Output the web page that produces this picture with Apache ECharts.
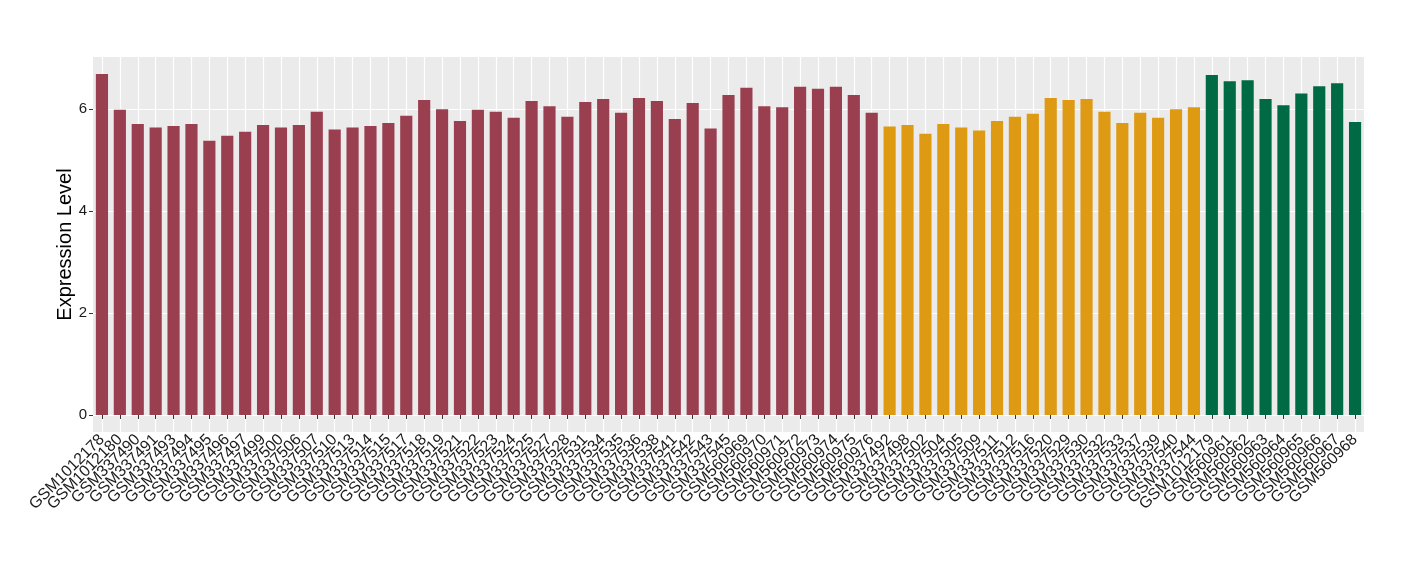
<!DOCTYPE html>
<html>
<head>
<meta charset="utf-8">
<script src="https://cdn.jsdelivr.net/npm/echarts@6/dist/echarts.min.js"></script>
<style>html,body{margin:0;padding:0;background:#fff;}#c{width:1420px;height:580px;}</style>
</head>
<body>
<div id="c"></div>
<script>
const categories = ["GSM1012178","GSM1012180","GSM337490","GSM337491","GSM337493","GSM337494","GSM337495","GSM337496","GSM337497","GSM337499","GSM337500","GSM337506","GSM337507","GSM337510","GSM337513","GSM337514","GSM337515","GSM337517","GSM337518","GSM337519","GSM337521","GSM337522","GSM337523","GSM337524","GSM337525","GSM337527","GSM337528","GSM337531","GSM337534","GSM337535","GSM337536","GSM337538","GSM337541","GSM337542","GSM337543","GSM337545","GSM560969","GSM560970","GSM560971","GSM560972","GSM560973","GSM560974","GSM560975","GSM560976","GSM337492","GSM337498","GSM337502","GSM337504","GSM337505","GSM337509","GSM337511","GSM337512","GSM337516","GSM337520","GSM337529","GSM337530","GSM337532","GSM337533","GSM337537","GSM337539","GSM337540","GSM337544","GSM1012179","GSM560961","GSM560962","GSM560963","GSM560964","GSM560965","GSM560966","GSM560967","GSM560968"];
const values = [6.69,5.99,5.71,5.64,5.67,5.71,5.38,5.48,5.56,5.69,5.64,5.69,5.95,5.60,5.64,5.67,5.73,5.87,6.18,6.00,5.77,5.99,5.95,5.83,6.16,6.06,5.85,6.14,6.20,5.93,6.22,6.16,5.81,6.12,5.62,6.28,6.42,6.06,6.04,6.44,6.40,6.44,6.28,5.93,5.66,5.69,5.52,5.71,5.64,5.58,5.77,5.85,5.91,6.22,6.18,6.20,5.95,5.73,5.93,5.83,6.00,6.04,6.67,6.55,6.57,6.20,6.08,6.31,6.45,6.51,5.75];
const groupSizes = {A:44, B:18, C:9};
const groupColors = {A:"#9A3F4F", B:"#DF9A13", C:"#006A44"};
const yTicks = [0,2,4,6];

const groups = [];
Object.keys(groupSizes).forEach(g => { for (let i=0;i<groupSizes[g];i++) groups.push(g); });
const dataItems = values.map((v,i) => ({value:v, itemStyle:{color:groupColors[groups[i]]}}));

const vmax = Math.max(...values);
const pad = vmax*0.05;

const chart = echarts.init(document.getElementById('c'), null, {renderer:'canvas'});
chart.setOption({
  animation:false,
  textStyle:{fontFamily:'Liberation Sans, Arial, sans-serif'},
  grid:{left:93,right:56,top:57,bottom:148,show:true,backgroundColor:'#EBEBEB',borderWidth:0,containLabel:false},
  xAxis:{
    type:'category', data:categories,
    axisLine:{show:false},
    axisTick:{show:true,alignWithLabel:true,length:4,lineStyle:{color:'#333',width:1}},
    splitLine:{show:true,alignWithLabel:true,lineStyle:{color:'#FFFFFF',width:1.2}},
    axisLabel:{rotate:45,interval:0,fontSize:16,color:'#1a1a1a',margin:5}
  },
  yAxis:{
    type:'value', min:-pad, max:vmax+pad,
    name:'Expression Level', nameLocation:'middle', nameGap:18, nameMoveOverlap:false,
    nameTextStyle:{fontSize:20,color:'#000'},
    axisLine:{show:false},
    axisTick:{show:true,length:4,customValues:yTicks,lineStyle:{color:'#333',width:1}},
    axisLabel:{customValues:yTicks,fontSize:15,color:'#1a1a1a',margin:6},
    splitLine:{show:true,lineStyle:{color:'#FFFFFF',width:1.2}}
  },
  series:[{type:'bar',data:dataItems,barWidth:'68%'}]
});
</script>
</body>
</html>
